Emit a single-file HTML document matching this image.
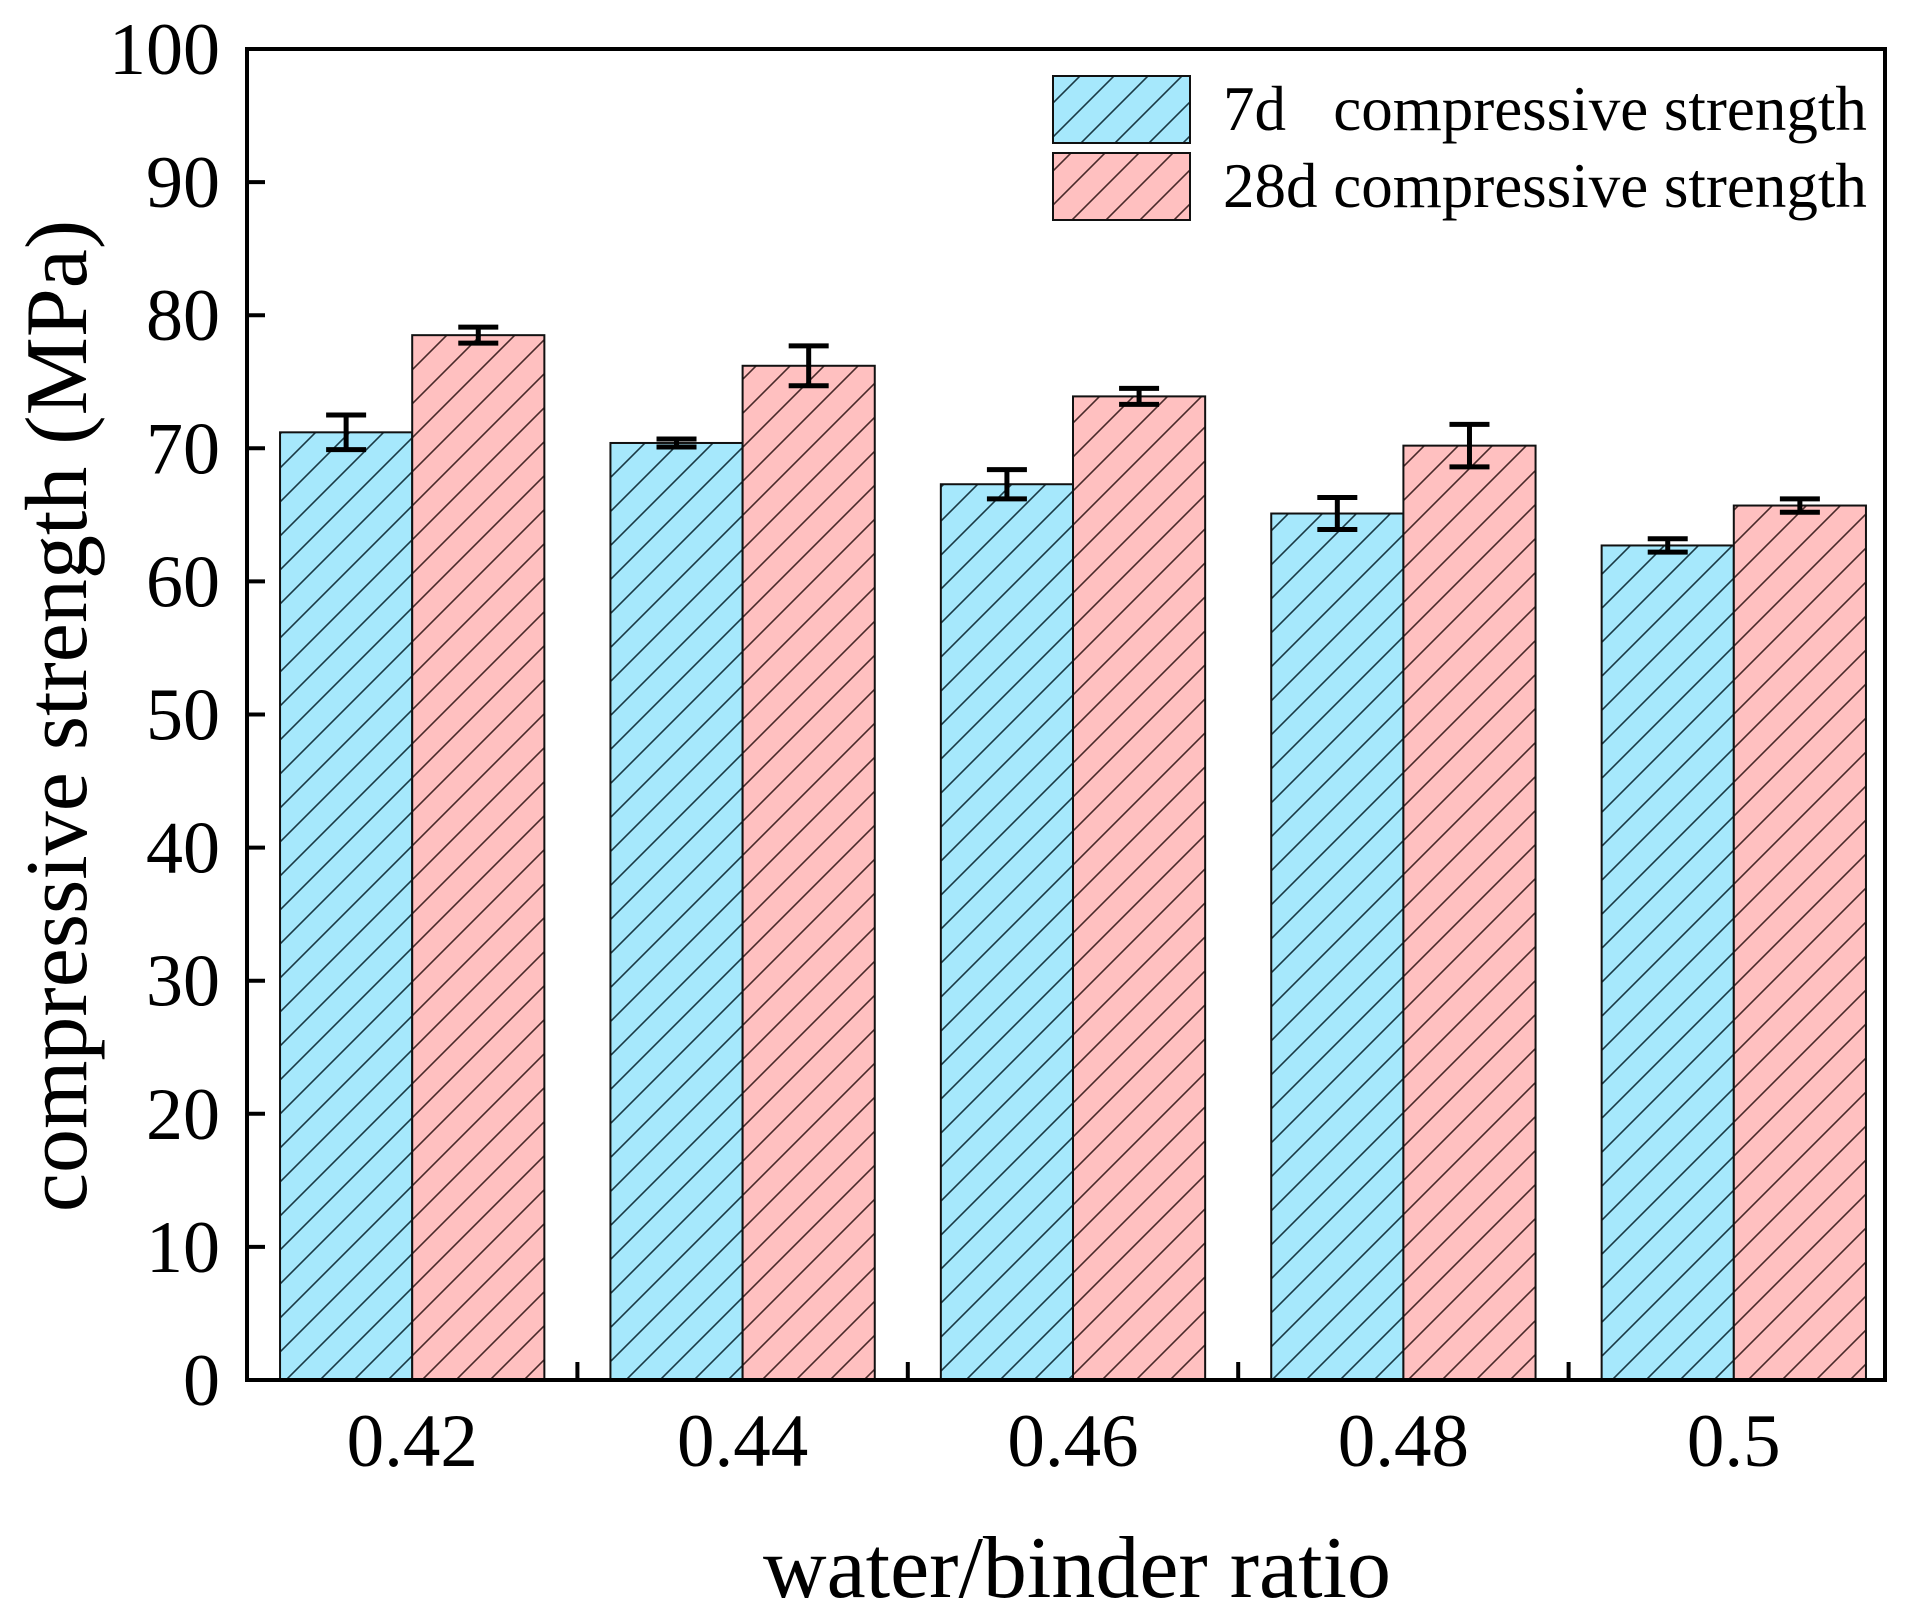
<!DOCTYPE html>
<html><head><meta charset="utf-8"><style>
body{margin:0;background:#fff}
svg{display:block;font-family:"Liberation Serif",serif}
</style></head><body>
<svg id="chart" width="1917" height="1615" viewBox="0 0 1917 1615">
<defs>
<pattern id="hatchB" patternUnits="userSpaceOnUse" width="34" height="34">
<rect width="34" height="34" fill="#a6e8fc"/>
<path d="M-8.5,8.5 L8.5,-8.5 M0,34 L34,0 M25.5,42.5 L42.5,25.5" stroke="#1a3a45" stroke-width="1.6"/>
</pattern>
<pattern id="hatchP" patternUnits="userSpaceOnUse" width="34" height="34">
<rect width="34" height="34" fill="#ffc0c0"/>
<path d="M-8.5,8.5 L8.5,-8.5 M0,34 L34,0 M25.5,42.5 L42.5,25.5" stroke="#4a2a2a" stroke-width="1.6"/>
</pattern>
</defs>
<g id="plot"></g>
</svg>
<script>
const categories=["0.42","0.44","0.46","0.48","0.5"];
const values7d=[71.2,70.4,67.3,65.1,62.7];
const err7d=[1.3,0.3,1.1,1.2,0.5];
const values28d=[78.5,76.2,73.9,70.2,65.7];
const err28d=[0.6,1.5,0.6,1.6,0.5];
const yTicks=[0,10,20,30,40,50,60,70,80,90,100];

const L=247,R=1899,FR=1885,T=49,B=1380;
const NS="http://www.w3.org/2000/svg";
const g=document.getElementById('plot');
const band=(R-L)/categories.length;
const y=v=>B-(v/100)*(B-T);
const xc=i=>L+band*(i+0.5);
const bw=band*0.4;
function mk(t,a,p){const e=document.createElementNS(NS,t);for(const k in a)e.setAttribute(k,a[k]);(p||g).appendChild(e);return e;}

function series(vals,errs,off,fill,nm){
 vals.forEach((v,i)=>{
  const x0=xc(i)+off*bw;
  const r=mk('rect',{x:x0,y:y(v),width:bw,height:B-y(v),fill:fill,stroke:'#111','stroke-width':2});
  
  
  const cx=x0+bw/2,e=errs[i];
  const eg=mk('g',{stroke:'#000','stroke-width':5});
  
  
  mk('line',{x1:cx,x2:cx,y1:y(v+e),y2:y(v-e)},eg);
  mk('line',{x1:cx-20,x2:cx+20,y1:y(v+e),y2:y(v+e)},eg);
  mk('line',{x1:cx-20,x2:cx+20,y1:y(v-e),y2:y(v-e)},eg);
 });
}
series(values7d,err7d,-1,'url(#hatchB)','7d');
series(values28d,err28d,0,'url(#hatchP)','28d');

const fr=mk('rect',{x:L,y:T,width:FR-L,height:B-T,fill:'none',stroke:'#000','stroke-width':4});



yTicks.forEach(t=>{
 const l=mk('line',{x1:L,x2:L+18,y1:y(t),y2:y(t),stroke:'#000','stroke-width':4});
 
 
 const tx=mk('text',{x:220,y:y(t)+25,'text-anchor':'end','font-size':74});
 tx.textContent=t;
 
 
});
for(let k=1;k<categories.length;k++){
 const l=mk('line',{x1:L+band*k,x2:L+band*k,y1:B,y2:B-18,stroke:'#000','stroke-width':4});
 
 
}
categories.forEach((c,i)=>{
 const tx=mk('text',{x:xc(i),y:1466,'text-anchor':'middle','font-size':75});
 tx.textContent=c;
 
 
});
const xt=mk('text',{x:1077,y:1597,'text-anchor':'middle','font-size':88});
xt.textContent='water/binder ratio';


const yt=mk('text',{x:0,y:0,'text-anchor':'middle','font-size':88,transform:'translate(86,716) rotate(-90)'});
yt.textContent='compressive strength (MPa)';



const lg=mk('g',{});


[['url(#hatchB)','7d   compressive strength',76,130],['url(#hatchP)','28d compressive strength',153,207]].forEach(([f,t,yy,by],i)=>{
 const r=mk('rect',{x:1053,y:yy,width:137,height:67,fill:f,stroke:'#111','stroke-width':2},lg);
 
 
 const tx=mk('text',{x:1223,y:by,'font-size':63,'xml:space':'preserve'},lg);
 tx.setAttribute('style','white-space:pre');
 tx.textContent=t;
 
 
});
</script>
</body></html>
